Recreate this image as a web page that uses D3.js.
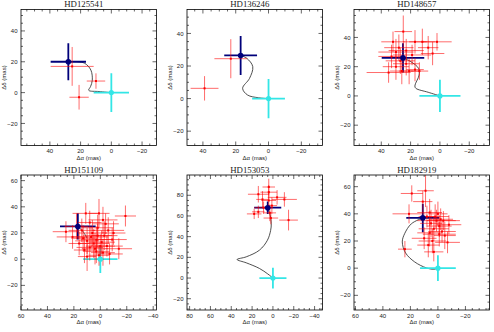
<!DOCTYPE html>
<html><head><meta charset="utf-8">
<script src="https://cdn.jsdelivr.net/npm/d3@7"></script>
<style>body{margin:0;background:#fff}svg{display:block}</style>
</head><body><svg id="c" width="494" height="332"></svg>
<script>
const titles = ["HD125541","HD136246","HD148657","HD151109","HD153053","HD182919"];
const xDomains = [[58.8,-29.4],[49.7,-32.9],[58.6,-33.8],[60,-42.5],[82.5,-47.6],[61,-37.5]];
const yDomains = [[-34.3,53.9],[-28.8,54.7],[-33.9,59.1],[-38.8,64.3],[-30.9,99.6],[-30.8,68.6]];
const xTicks = [[40,20,0,-20],[40,20,0,-20],[40,20,0,-20],[60,40,20,0,-20,-40],[80,60,40,20,0,-20,-40],[60,40,20,0,-20]];
const yTicks = [[-20,0,20,40],[-20,0,20,40],[-20,0,20,40],[-20,0,20,40,60],[-20,0,20,40,60,80],[-20,0,20,40,60]];
// [x, y, errX, errY]
const primary = [[28,20,11.5,12],[17,26.5,10,12],[25.2,26,14.5,10],[17,25,13.5,10],[5,68,13,6],[11,37,12,10.5]];
const companion = [[0,0,11.5,12.5],[0,0,10,12],[0,0,14,11],[0,0,13,10.5],[0,0,13,10],[0,0,13,9.5]];
const redP1 = [[25.5,17,14,12.6],[10,7.5,6,5],[21,-3,6.3,8]];
const redP2 = [[23,24.5,10,12],[39,6.3,8.5,7.5]];
const redP3 = [[25,44,6,11],[32,37,8,7],[17,37,8,8],[12,37,9,9],[2,37,10,6],[28,33,10,9],[23,31,12,8],[30,30,12,9],[19,28,13,7],[5,29,8,8],[33,27,9,8],[27,24,10,9],[23,22,9,8],[35,16,15,7],[26,17,8,9],[21,17,7,9],[17,18,6,8],[14,17,6,6],[30,20,9,9],[8,33,7,8]];
const redP4 = [[11,35,10,8],[1,35,8,11],[-19,33,8,8],[-2,30,11,10],[8,28,9,9],[26,21,10,8],[21,17,12,9],[-6,22,12,10],[-9,15,11,9],[-14,8,10,8],[2,24,12,10],[14,22,10,9],[6,20,11,10],[-3,18,10,11],[3,15,12,10],[10,14,9,10],[-1,13,10,9],[5,12,12,11],[0,10,11,9],[8,9,10,10],[-5,10,12,8],[12,7,8,10],[3,6,10,9],[-2,5,9,10],[16,12,8,9],[7,17,13,8],[-10,20,9,9],[18,25,9,10],[-4,27,10,8],[1,3,8,8],[4,8,10,12],[10,2,7,11],[-7,4,10,8],[13,16,9,10],[2,18,11,9]];
const redP5 = [[14,81,10,8],[4,88,6,8],[4,83,8,7],[10,76,6,8],[-4,78,9,7],[-11,76,12,7],[4,75,7,9],[18,62,7,5],[14,64,6,6],[3,63,6,8],[2,58,7,6],[-15,56,9,10],[9,68,9,6],[1,70,5,8]];
const redP6 = [[19,55,8,6],[9,57,6,12],[11,49,7,8],[21,40,12,7],[6,41,9,10],[0,40,7,9],[-2,36,9,8],[-4,35,12,7],[2,38,10,9],[5,33,8,10],[-1,31,9,8],[3,29,11,9],[-3,27,10,8],[6,26,9,10],[-1,25,12,9],[10,22,9,8],[4,20,10,9],[-7,19,9,8],[7,17,8,9],[24,14,5,6],[3,12,7,7],[-5,24,8,10],[1,35,14,8],[8,38,6,8],[-8,32,9,7]];
const curveP1 = [[28,20],[22,20],[17.3,19],[13.3,14.6],[12.4,8],[13.5,4],[14.7,1.5],[8,0.7],[0,0]];
const curveP2 = [[17,26.5],[13.2,24.7],[9.6,19.6],[11.6,12.4],[15.8,6.3],[12.8,2.2],[6,0.5],[0,0]];
const curveP3 = [[25.2,26],[19.8,23.4],[14.6,18.9],[14.2,14.3],[17.1,6.8],[16.4,5.2],[8,2.5],[0,0]];
const curveP4 = [[17,25],[13,21],[10,16]];
const curveP5 = [[5,68],[2.5,60],[1.6,52.5],[2.2,46],[5.3,36.5],[13,26.9],[25.6,20.5],[34.4,17.9],[25.6,14.7],[13,9.3],[5,4],[0,0]];
const curveP6 = [[11,37],[19.3,32.7],[24.2,25.4],[25.9,19.3],[23.5,11.2],[16.9,4.6],[8.4,0.2],[3,-0.8],[0,0]];

const reds = [redP1,redP2,redP3,redP4,redP5,redP6];
const curves = [curveP1,curveP2,curveP3,curveP4,curveP5,curveP6];

const svg = d3.select("#c");
const colX = [21,187,354], rowY = [9.5,175], W = 135.5, H = [136,135];
const fmt = v => v < 0 ? "\u2212" + Math.abs(v) : String(v);

titles.forEach((t,i) => {
  const c = i % 3, r = Math.floor(i/3), h = H[r];
  const g = svg.append("g").attr("transform",`translate(${colX[c]},${rowY[r]})`);
  const x = d3.scaleLinear().domain(xDomains[i]).range([0,W]);
  const y = d3.scaleLinear().domain(yDomains[i]).range([h,0]);
  const clipId = "clip"+i;
  g.append("clipPath").attr("id",clipId).append("rect").attr("width",W).attr("height",h);
  const p = g.append("g").attr("clip-path",`url(#${clipId})`);

  p.append("path").datum(curves[i])
    .attr("d", d3.line().x(d=>x(d[0])).y(d=>y(d[1])).curve(d3.curveCatmullRom.alpha(0.5)))
    .attr("fill","none").attr("stroke","#222").attr("stroke-width",0.8);

  const bars = (sel, data, color, sw, op) => {
    const gg = sel.append("g").attr("stroke",color).attr("stroke-width",sw).attr("stroke-opacity",op);
    data.forEach(d => {
      gg.append("line").attr("x1",x(d[0]-d[2])).attr("x2",x(d[0]+d[2])).attr("y1",y(d[1])).attr("y2",y(d[1]));
      gg.append("line").attr("x1",x(d[0])).attr("x2",x(d[0])).attr("y1",y(d[1]-d[3])).attr("y2",y(d[1]+d[3]));
    });
  };
  bars(p, [primary[i]], "#00007a", 1.8, 1);
  bars(p, [companion[i]], "#33e6e6", 1.8, 1);
  bars(p, reds[i], "#ff0000", 1, 0.58);
  p.append("g").selectAll("rect").data(reds[i]).join("rect")
    .attr("x",d=>x(d[0])-1).attr("y",d=>y(d[1])-1).attr("width",2).attr("height",2).attr("fill","#ff0000");
  p.append("circle").attr("cx",x(primary[i][0])).attr("cy",y(primary[i][1])).attr("r",2.8).attr("fill","#00007a");
  p.append("circle").attr("cx",x(companion[i][0])).attr("cy",y(companion[i][1])).attr("r",2.6).attr("fill","#33e6e6");

  g.append("rect").attr("width",W).attr("height",h).attr("fill","none").attr("stroke","#000").attr("stroke-width",0.8);
  const tk = g.append("g").attr("stroke","#000").attr("stroke-width",0.6);
  const xd = xDomains[i], yd = yDomains[i];
  const xmin = Math.min(...xd), xmax = Math.max(...xd), ymin = Math.min(...yd), ymax = Math.max(...yd);
  for (let v = Math.ceil(xmin/5)*5; v <= xmax; v += 5) {
    const L = v % 20 === 0 ? 4 : 2, px = x(v);
    tk.append("line").attr("x1",px).attr("x2",px).attr("y1",h).attr("y2",h-L);
    tk.append("line").attr("x1",px).attr("x2",px).attr("y1",0).attr("y2",L);
  }
  for (let v = Math.ceil(ymin/5)*5; v <= ymax; v += 5) {
    const L = v % 20 === 0 ? 4 : 2, py = y(v);
    tk.append("line").attr("y1",py).attr("y2",py).attr("x1",0).attr("x2",L);
    tk.append("line").attr("y1",py).attr("y2",py).attr("x1",W).attr("x2",W-L);
  }
  const lab = g.append("g").attr("font-family","Liberation Sans, Arial, sans-serif").attr("font-size",6).attr("fill","#222");
  xTicks[i].forEach(v => lab.append("text").attr("x",x(v)).attr("y",h+7.5).attr("text-anchor","middle").text(fmt(v)));
  yTicks[i].forEach(v => lab.append("text").attr("x",-3.5).attr("y",y(v)).attr("dy","0.35em").attr("text-anchor","end").text(fmt(v)));
  lab.append("text").attr("x",W/2).attr("y",h+14).attr("text-anchor","middle").text("\u0394\u03b1 (mas)");
  lab.append("text").attr("transform",`translate(-15.5,${h/2}) rotate(-90)`).attr("text-anchor","middle").text("\u0394\u03b4 (mas)");
  g.append("text").attr("x",W/2-5).attr("y",-2.2).attr("text-anchor","middle")
    .attr("font-family","Liberation Serif, Times New Roman, serif").attr("font-size",8.8).attr("fill","#222").text(t);
});
</script></body></html>
